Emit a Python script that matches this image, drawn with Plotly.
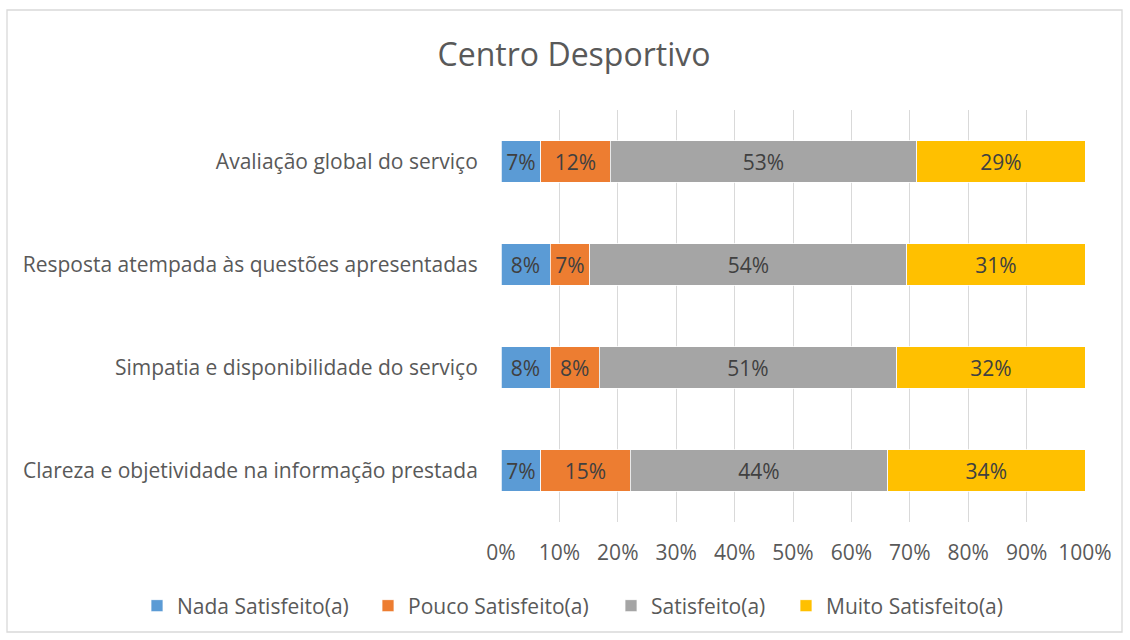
import plotly.graph_objects as go

categories = [
    "Clareza e objetividade na informação prestada",
    "Simpatia e disponibilidade do serviço",
    "Resposta atempada às questões apresentadas",
    "Avaliação global do serviço",
]
series_names = ["Nada Satisfeito(a)", "Pouco Satisfeito(a)", "Satisfeito(a)", "Muito Satisfeito(a)"]
nada = [6.8, 8.4, 8.4, 6.8]
pouco = [15.3, 8.4, 6.8, 11.9]
satisfeito = [44.1, 51.0, 54.3, 52.5]
muito = [33.8, 32.2, 30.5, 28.8]
colors = ["#5B9BD5", "#ED7D31", "#A5A5A5", "#FFC000"]
tick_vals = [0, 10, 20, 30, 40, 50, 60, 70, 80, 90, 100]
tick_text = ["0%", "10%", "20%", "30%", "40%", "50%", "60%", "70%", "80%", "90%", "100%"]

FONT = "Open Sans"
FS = 21
legend_ids = ["legend", "legend2", "legend3", "legend4"]
legend_left_px = [137, 368, 611, 786]

fig = go.Figure()
for name, vals, col, lid in zip(series_names, [nada, pouco, satisfeito, muito], colors, legend_ids):
    fig.add_trace(go.Bar(
        y=categories, x=vals, name=name, orientation="h",
        marker=dict(color=col, line=dict(color="white", width=0.75)),
        width=0.4,
        texttemplate="%{x:.0f}%", textposition="inside", insidetextanchor="middle",
        textfont=dict(family=FONT, size=FS, color="#404040"),
        constraintext="none",
        hoverinfo="skip",
        legend=lid,
    ))

legend_style = dict(orientation="h", xref="container", yref="container", xanchor="left",
                    y=(640 - 606) / 640, yanchor="middle",
                    font=dict(family=FONT, size=FS, color="#595959"),
                    itemwidth=30, bgcolor="rgba(0,0,0,0)")
legends = {lid: dict(legend_style, x=px / 1130) for lid, px in zip(legend_ids, legend_left_px)}

fig.update_layout(
    barmode="stack",
    width=1130, height=640,
    paper_bgcolor="white", plot_bgcolor="white",
    margin=dict(l=501, r=45, t=110, b=118, autoexpand=False),
    title=dict(text="Centro Desportivo", xref="container", yref="container",
               x=0.508, xanchor="center", y=1 - 55 / 640, yanchor="middle",
               font=dict(family=FONT, size=32, color="#595959")),
    font=dict(family=FONT, size=FS, color="#595959"),
    showlegend=True,
    xaxis=dict(range=[0, 100], tickmode="array", tickvals=tick_vals, ticktext=tick_text,
               showgrid=True, gridcolor="#D9D9D9", gridwidth=1.3, zeroline=False, showline=False,
               ticks="outside", ticklen=12, tickcolor="rgba(0,0,0,0)",
               tickfont=dict(family=FONT, size=FS, color="#595959"), fixedrange=True),
    yaxis=dict(categoryorder="array", categoryarray=categories, showgrid=False, showline=False,
               ticks="outside", ticklen=18, tickcolor="rgba(0,0,0,0)",
               tickfont=dict(family=FONT, size=FS, color="#595959"), fixedrange=True),
    shapes=[dict(type="rect", xref="paper", yref="paper",
                 x0=(7 - 501) / 584, x1=(1122 - 501) / 584,
                 y0=-(632 - 522) / 412, y1=(522 - 10) / 412,
                 line=dict(color="#D9D9D9", width=1.3), fillcolor="rgba(0,0,0,0)", layer="below")],
    **legends,
)

fig.write_html("out.html", config={"displayModeBar": False},
               post_script="document.body.style.margin='0';")
